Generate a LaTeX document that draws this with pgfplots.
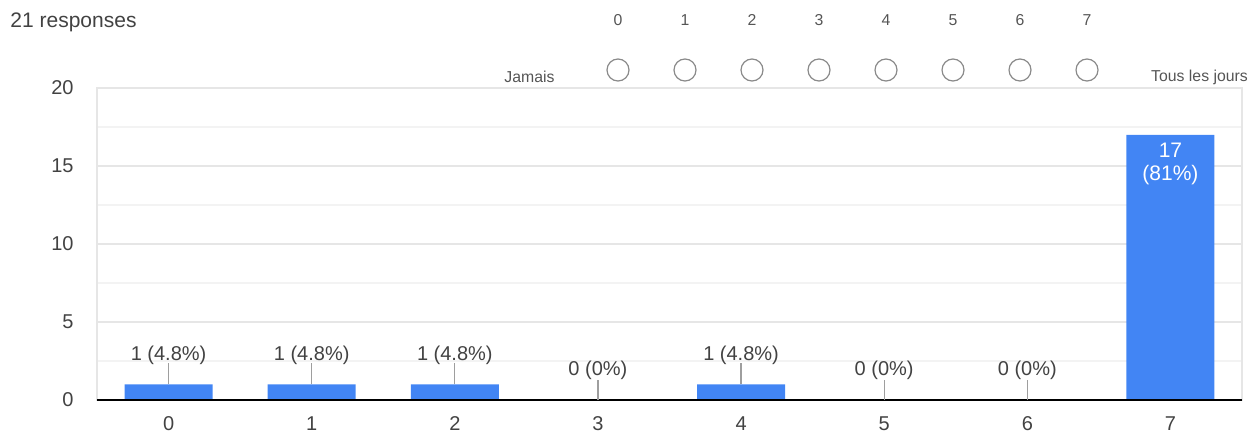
\documentclass[border=0pt]{standalone}
\usepackage{pgfplots}
\pgfplotsset{compat=1.18}
\usepackage{fontspec}
\setmainfont{Liberation Sans}
\definecolor{barblue}{HTML}{4285F4}
\definecolor{txt}{HTML}{424242}
\definecolor{legtxt}{HTML}{555555}
\definecolor{majgrid}{HTML}{E6E6E6}
\definecolor{mingrid}{HTML}{F3F3F3}
\definecolor{baseline}{HTML}{6E6E6E}
\definecolor{leader}{HTML}{9E9E9E}
\definecolor{radio}{HTML}{8A8A8A}

% responses per score (0 = Jamais ... 7 = Tous les jours)
\pgfplotstableread{
x y
0 1
1 1
2 1
3 0
4 1
5 0
6 0
7 17
}\responses

\begin{document}
\begin{tikzpicture}
\useasboundingbox (0,0) rectangle (629bp,-217bp);

% header
\node[text=txt, font=\fontsize{10.5bp}{12bp}\selectfont] at (36.75bp,-11bp) {21 responses};

% linear scale shown on the form
\foreach \k in {0,...,7} {
  \node[text=legtxt, font=\fontsize{7.9bp}{9bp}\selectfont] at ({309bp+\k*33.5bp},-10bp) {\k};
  \draw[radio, line width=0.6bp] ({309bp+\k*33.5bp},-35bp) circle (5.5bp);
}
\node[text=legtxt, font=\fontsize{7.9bp}{9bp}\selectfont] at (264.75bp,-38.5bp) {Jamais};
\node[text=legtxt, font=\fontsize{7.9bp}{9bp}\selectfont] at (599.75bp,-38.5bp) {Tous les jours};

\begin{axis}[
  at={(48.5bp,-200bp)}, anchor=south west,
  scale only axis,
  width=572.5bp, height=156bp,
  xmin=-0.5, xmax=7.5,
  ymin=0, ymax=20,
  xtick={0,...,7},
  ytick={0,5,...,20},
  minor ytick={2.5,7.5,12.5,17.5},
  ymajorgrids, yminorgrids,
  major grid style={majgrid, line width=0.6bp},
  minor grid style={mingrid, line width=0.6bp},
  major tick length=0pt, minor tick length=0pt,
  axis line style={majgrid, line width=0.6bp},
  /pgf/number format/assume math mode=true,
  tick label style={text=txt, font=\fontsize{10bp}{11bp}\selectfont, inner sep=0pt},
  xticklabel style={yshift=-8bp},
  yticklabel style={xshift=-11.5bp},
  clip=false,
]
\addplot[ybar, bar width=44bp, bar shift=0pt, fill=barblue, draw=none]
  table[x=x, y=y] {\responses};

% base line
\draw[baseline, line width=1bp] (axis cs:-0.5,0) -- (axis cs:7.5,0);

% value labels with leader lines
\pgfplotsinvokeforeach{0,1,2,4}{
  \draw[leader, line width=0.6bp] (axis cs:#1,1) -- (axis cs:#1,2.35);
  \node[text=txt, font=\fontsize{10bp}{11bp}\selectfont] at (axis cs:#1,2.88) {1 (4.8\%)};
}
\pgfplotsinvokeforeach{3,5,6}{
  \draw[leader, line width=0.6bp] (axis cs:#1,0) -- (axis cs:#1,1.3);
  \node[text=txt, font=\fontsize{10bp}{11bp}\selectfont] at (axis cs:#1,1.92) {0 (0\%)};
}
\node[text=white, font=\fontsize{10.5bp}{12bp}\selectfont] at (axis cs:7,16.03) {17};
\node[text=white, font=\fontsize{10.5bp}{12bp}\selectfont] at (axis cs:7,14.42) {(81\%)};
\end{axis}
\end{tikzpicture}
\end{document}
